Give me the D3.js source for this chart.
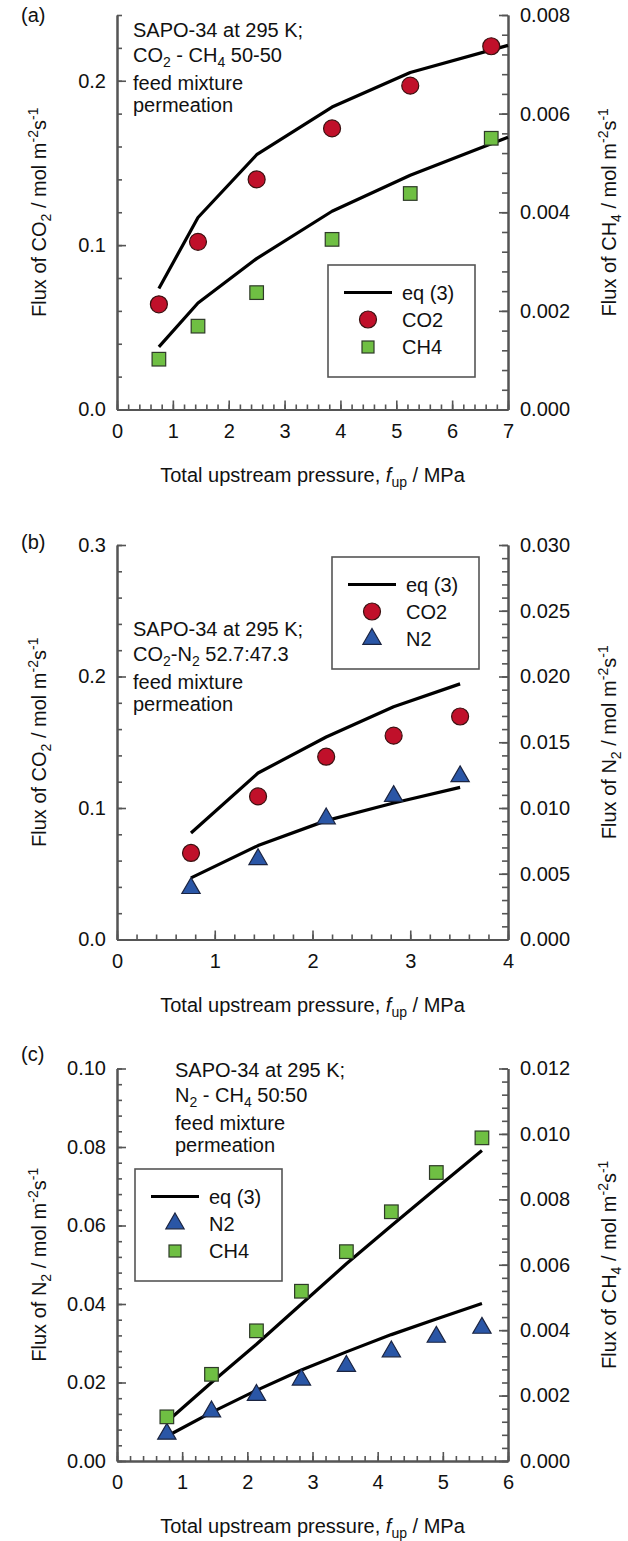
<!DOCTYPE html>
<html><head><meta charset="utf-8">
<script src="https://cdn.jsdelivr.net/npm/d3@7"></script>
<style>
body{margin:0;background:#fff;}
svg text{font-family:"Liberation Sans",Arial,Helvetica,sans-serif;fill:#111;}
</style></head><body>
<svg id="chart" width="628" height="1541"></svg>
<script>
// ---------- Panel (a): CO2 / CH4 ----------
const aPressure   = [0.75, 1.45, 2.5, 3.85, 5.25, 6.7];
const aFluxCO2    = [0.064, 0.102, 0.140, 0.171, 0.197, 0.221];
const aFluxCH4    = [0.00102, 0.00169, 0.00237, 0.00345, 0.00438, 0.0055];
const aModelP     = [0.75, 1.45, 2.5, 3.85, 5.25, 7.0];
const aModelCO2   = [0.0736, 0.1168, 0.155, 0.184, 0.205, 0.2215];
const aModelCH4   = [0.00127, 0.00216, 0.00306, 0.00402, 0.00475, 0.00552];
const aXTicks     = [0, 1, 2, 3, 4, 5, 6, 7];
const aLeftTicks  = [0, 0.1, 0.2];
const aRightTicks = [0, 0.002, 0.004, 0.006, 0.008];

// ---------- Panel (b): CO2 / N2 ----------
const bPressure   = [0.757, 1.443, 2.14, 2.83, 3.51];
const bFluxCO2    = [0.0658, 0.1088, 0.139, 0.155, 0.1696];
const bFluxN2     = [0.0039, 0.0061, 0.0092, 0.0109, 0.0124];
const bModelP     = [0.757, 1.443, 2.14, 2.83, 3.51];
const bModelCO2   = [0.081, 0.1266, 0.154, 0.177, 0.1944];
const bModelN2    = [0.00469, 0.00714, 0.00904, 0.01038, 0.01157];
const bXTicks     = [0, 1, 2, 3, 4];
const bLeftTicks  = [0, 0.1, 0.2, 0.3];
const bRightTicks = [0, 0.005, 0.010, 0.015, 0.020, 0.025, 0.030];

// ---------- Panel (c): N2 / CH4 ----------
const cPressure   = [0.765, 1.45, 2.14, 2.83, 3.52, 4.21, 4.90, 5.60];
const cFluxN2     = [0.0069, 0.0126, 0.0168, 0.0207, 0.0242, 0.0279, 0.0316, 0.0339];
const cFluxCH4    = [0.00135, 0.00265, 0.00398, 0.00519, 0.0064, 0.00762, 0.00882, 0.00988];
const cModelP     = [0.765, 1.45, 2.14, 2.83, 3.52, 4.21, 4.90, 5.60];
const cModelN2    = [0.0063, 0.0124, 0.0180, 0.0232, 0.0278, 0.0322, 0.0362, 0.0401];
const cModelCH4   = [0.0012, 0.0024, 0.00357, 0.0048, 0.00603, 0.00719, 0.00834, 0.00949];
const cXTicks     = [0, 1, 2, 3, 4, 5, 6];
const cLeftTicks  = [0, 0.02, 0.04, 0.06, 0.08, 0.10];
const cRightTicks = [0, 0.002, 0.004, 0.006, 0.008, 0.010, 0.012];

const svg = d3.select("#chart");
const FS = 20, SUB = 14;
const AXIS_COLOR = "#555";

const STYLE = {
  CO2: {shape: "circle",   fill: "#c0102a", stroke: "#3a1010"},
  CH4: {shape: "square",   fill: "#6fbf43", stroke: "#2e3a28"},
  N2:  {shape: "triangle", fill: "#2a56a6", stroke: "#1b2440"}
};

// rich text: parts = [[text, kind]] kind: n | sub | sup | i
function rich(textSel, parts){
  let shift = 0;
  parts.forEach(([t, k]) => {
    const ts = textSel.append("tspan").text(t);
    let target = 0;
    if (k === "sub") { target = 5; ts.attr("font-size", SUB); }
    else if (k === "sup") { target = -8; ts.attr("font-size", SUB); }
    else if (k === "i") { ts.attr("font-style", "italic"); }
    if (target !== shift) { ts.attr("dy", target - shift); shift = target; }
  });
}

function marker(g, kind, cx, cy, small){
  const s = STYLE[kind];
  if (s.shape === "circle") {
    g.append("circle").attr("cx", cx).attr("cy", cy).attr("r", 8.5)
      .attr("fill", s.fill).attr("stroke", s.stroke).attr("stroke-width", 1.2);
  } else if (s.shape === "square") {
    const h = small ? 6 : 6.8;
    g.append("rect").attr("x", cx - h).attr("y", cy - h).attr("width", 2 * h).attr("height", 2 * h)
      .attr("fill", s.fill).attr("stroke", s.stroke).attr("stroke-width", 1.2);
  } else {
    g.append("path").attr("d", d3.symbol(d3.symbolTriangle).size(145)())
      .attr("transform", `translate(${cx},${cy})`)
      .attr("fill", s.fill).attr("stroke", s.stroke).attr("stroke-width", 1.2);
  }
}

function styleAxis(sel){
  sel.select(".domain").attr("stroke", AXIS_COLOR).attr("stroke-width", 2);
  sel.selectAll(".tick line").attr("stroke", AXIS_COLOR).attr("stroke-width", 1.6);
  sel.selectAll(".tick text").attr("font-size", FS).attr("fill", "#111")
    .attr("font-family", '"Liberation Sans",Arial,sans-serif');
}

function minorValues(max, step){
  const n = Math.round(max / step);
  return d3.range(0, n + 1).map(i => i * step);
}

function panel(o){
  const g = svg.append("g");
  const L = 117, R = 508;
  const x  = d3.scaleLinear().domain([0, d3.max(o.xTicks)]).range([L, R]);
  const yL = d3.scaleLinear().domain([0, o.leftMax]).range([o.bottom, o.top]);
  const yR = d3.scaleLinear().domain([0, o.rightMax]).range([o.bottom, o.top]);

  // bottom axis
  g.append("g").attr("transform", `translate(0,${o.bottom})`)
    .call(d3.axisBottom(x).tickValues(minorValues(d3.max(o.xTicks), 0.2)).tickSize(-5).tickSizeOuter(0).tickFormat(""))
    .call(styleAxis);
  g.append("g").attr("transform", `translate(0,${o.bottom})`)
    .call(d3.axisBottom(x).tickValues(o.xTicks).tickSize(-9).tickSizeOuter(0).tickPadding(14).tickFormat(d3.format("d")))
    .call(styleAxis);
  // left axis
  g.append("g").attr("transform", `translate(${L},0)`)
    .call(d3.axisLeft(yL).tickValues(minorValues(o.leftMax, o.leftMinor)).tickSize(-5).tickSizeOuter(0).tickFormat(""))
    .call(styleAxis);
  g.append("g").attr("transform", `translate(${L},0)`)
    .call(d3.axisLeft(yL).tickValues(o.leftTicks).tickSize(-9).tickSizeOuter(0).tickPadding(11).tickFormat(d3.format(o.leftFmt)))
    .call(styleAxis);
  // right axis
  g.append("g").attr("transform", `translate(${R},0)`)
    .call(d3.axisRight(yR).tickValues(minorValues(o.rightMax, o.rightMinor)).tickSize(-6).tickSizeOuter(0).tickFormat(""))
    .call(styleAxis);
  g.append("g").attr("transform", `translate(${R},0)`)
    .call(d3.axisRight(yR).tickValues(o.rightTicks).tickSize(-9).tickSizeOuter(0).tickPadding(12).tickFormat(d3.format(".3f")))
    .call(styleAxis);

  // model lines
  o.lines.forEach(ln => {
    const sc = ln.side === "L" ? yL : yR;
    g.append("path").datum(d3.zip(ln.xs, ln.ys))
      .attr("d", d3.line().x(d => x(d[0])).y(d => sc(d[1])))
      .attr("fill", "none").attr("stroke", "#000").attr("stroke-width", 3.2)
      .attr("stroke-linejoin", "round");
  });
  // markers
  o.series.forEach(s => {
    const sc = s.side === "L" ? yL : yR;
    s.xs.forEach((xv, i) => marker(g, s.kind, x(xv), sc(s.ys[i])));
  });

  // panel letter
  g.append("text").attr("x", 21).attr("y", o.labelY).attr("font-size", 20).text(o.label);

  // annotation
  o.note.forEach((parts, i) => {
    rich(g.append("text").attr("x", o.noteX).attr("y", o.noteY + [0, 25, 53, 75][i]).attr("font-size", FS), parts);
  });

  // legend
  const lg = g.append("g").attr("transform", `translate(${o.legX},${o.legY})`);
  lg.append("rect").attr("width", 147).attr("height", 112)
    .attr("fill", "#fff").attr("stroke", "#555").attr("stroke-width", 1.6);
  const rows = [27.5, 54.5, 82];
  lg.append("line").attr("x1", 16).attr("x2", 64).attr("y1", rows[0]).attr("y2", rows[0])
    .attr("stroke", "#000").attr("stroke-width", 3.2);
  lg.append("text").attr("x", 74).attr("y", rows[0]).attr("dy", "0.35em").attr("font-size", FS).text("eq (3)");
  o.legend.forEach((s, i) => {
    marker(lg, s, 40, rows[i + 1], true);
    lg.append("text").attr("x", 74).attr("y", rows[i + 1]).attr("dy", "0.35em").attr("font-size", FS).text(s);
  });

  // axis titles
  rich(g.append("text").attr("x", (L + R) / 2).attr("y", o.bottom + 72)
    .attr("text-anchor", "middle").attr("font-size", FS),
    [["Total upstream pressure, ", "n"], ["f", "i"], ["up", "sub"], [" / MPa", "n"]]);
  const cy = (o.top + o.bottom) / 2;
  rich(g.append("text").attr("transform", `translate(46,${cy}) rotate(-90)`)
    .attr("text-anchor", "middle").attr("font-size", FS),
    [["Flux of " + o.leftSpecies[0], "n"], [o.leftSpecies[1], "sub"], [" / mol m", "n"], ["-2", "sup"], ["s", "n"], ["-1", "sup"]]);
  rich(g.append("text").attr("transform", `translate(616,${cy}) rotate(-90)`)
    .attr("text-anchor", "middle").attr("font-size", FS),
    [["Flux of " + o.rightSpecies[0], "n"], [o.rightSpecies[1], "sub"], [" / mol m", "n"], ["-2", "sup"], ["s", "n"], ["-1", "sup"]]);
}

panel({
  top: 15, bottom: 409.5, xTicks: aXTicks,
  leftMax: 0.24, leftTicks: aLeftTicks, leftMinor: 0.02, leftFmt: ".1f",
  rightMax: 0.008, rightTicks: aRightTicks, rightMinor: 0.0004,
  lines: [{xs: aModelP, ys: aModelCO2, side: "L"}, {xs: aModelP, ys: aModelCH4, side: "R"}],
  series: [{kind: "CO2", xs: aPressure, ys: aFluxCO2, side: "L"}, {kind: "CH4", xs: aPressure, ys: aFluxCH4, side: "R"}],
  label: "(a)", labelY: 22,
  noteX: 133, noteY: 37,
  note: [[["SAPO-34 at 295 K;", "n"]],
         [["CO", "n"], ["2", "sub"], [" - CH", "n"], ["4", "sub"], [" 50-50", "n"]],
         [["feed mixture", "n"]], [["permeation", "n"]]],
  legX: 328, legY: 265, legend: ["CO2", "CH4"],
  leftSpecies: ["CO", "2"], rightSpecies: ["CH", "4"]
});

panel({
  top: 545, bottom: 939.5, xTicks: bXTicks,
  leftMax: 0.3, leftTicks: bLeftTicks, leftMinor: 0.02, leftFmt: ".1f",
  rightMax: 0.030, rightTicks: bRightTicks, rightMinor: 0.001,
  lines: [{xs: bModelP, ys: bModelCO2, side: "L"}, {xs: bModelP, ys: bModelN2, side: "R"}],
  series: [{kind: "CO2", xs: bPressure, ys: bFluxCO2, side: "L"}, {kind: "N2", xs: bPressure, ys: bFluxN2, side: "R"}],
  label: "(b)", labelY: 549,
  noteX: 133, noteY: 636,
  note: [[["SAPO-34 at 295 K;", "n"]],
         [["CO", "n"], ["2", "sub"], ["-N", "n"], ["2", "sub"], [" 52.7:47.3", "n"]],
         [["feed mixture", "n"]], [["permeation", "n"]]],
  legX: 332, legY: 557, legend: ["CO2", "N2"],
  leftSpecies: ["CO", "2"], rightSpecies: ["N", "2"]
});

panel({
  top: 1068.5, bottom: 1461, xTicks: cXTicks,
  leftMax: 0.10, leftTicks: cLeftTicks, leftMinor: 0.004, leftFmt: ".2f",
  rightMax: 0.012, rightTicks: cRightTicks, rightMinor: 0.0004,
  lines: [{xs: cModelP, ys: cModelN2, side: "L"}, {xs: cModelP, ys: cModelCH4, side: "R"}],
  series: [{kind: "N2", xs: cPressure, ys: cFluxN2, side: "L"}, {kind: "CH4", xs: cPressure, ys: cFluxCH4, side: "R"}],
  label: "(c)", labelY: 1061,
  noteX: 175, noteY: 1077,
  note: [[["SAPO-34 at 295 K;", "n"]],
         [["N", "n"], ["2", "sub"], [" - CH", "n"], ["4", "sub"], [" 50:50", "n"]],
         [["feed mixture", "n"]], [["permeation", "n"]]],
  legX: 135, legY: 1169, legend: ["N2", "CH4"],
  leftSpecies: ["N", "2"], rightSpecies: ["CH", "4"]
});
</script>
</body></html>
